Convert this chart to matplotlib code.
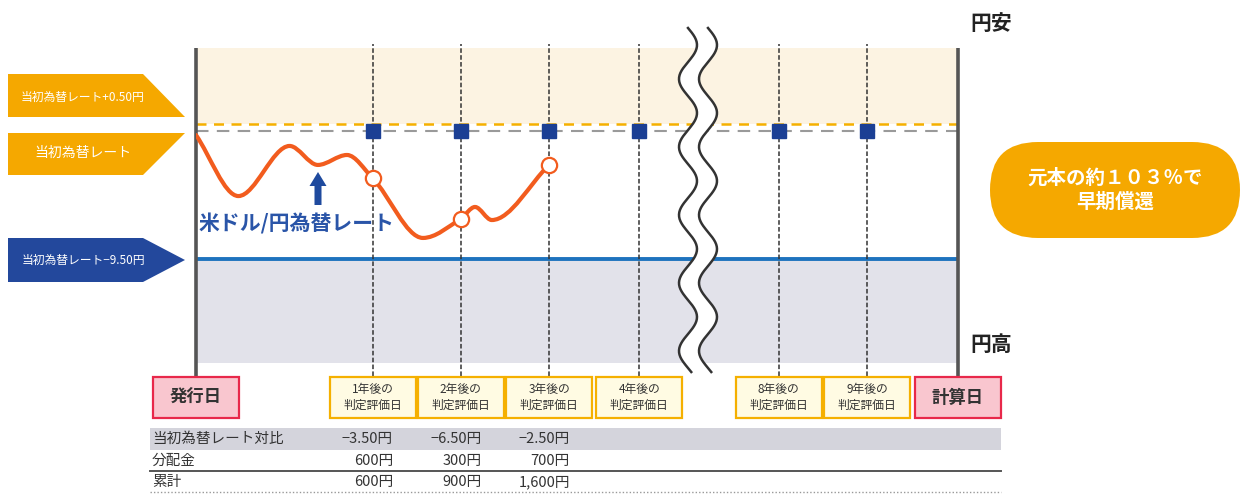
import numpy as np
import matplotlib
matplotlib.use("Agg")
import matplotlib.pyplot as plt
from matplotlib.patches import Polygon, Rectangle, FancyBboxPatch, PathPatch, FancyArrow
from matplotlib.path import Path
from matplotlib.transforms import blended_transform_factory

plt.rcParams["font.family"] = ["Noto Sans CJK JP", "DejaVu Sans"]

# --- data -------------------------------------------------------------
# rate levels relative to the initial USD/JPY rate (yen)
upper_level = 0.50
lower_level = -9.50

# valuation dates (position in interval units from the issue date)
event_names = ["発行日", "1年後の\n判定評価日", "2年後の\n判定評価日", "3年後の\n判定評価日",
               "4年後の\n判定評価日", "8年後の\n判定評価日", "9年後の\n判定評価日", "計算日"]
event_pos = [0.0, 2.0, 3.0, 4.0, 5.02, 6.6, 7.6, 8.63]

# USD/JPY path, change vs. initial rate (yen)
rate_pos = [0.0, 0.48, 1.06, 1.38, 1.71, 2.0, 2.57, 3.0, 3.16, 3.35, 4.0]
rate_chg = [-0.30, -4.83, -1.11, -2.52, -1.78, -3.50, -7.94, -6.50, -5.64, -6.61, -2.50]

# table below the chart
row_names = ["当初為替レート対比", "分配金", "累計"]
rate_diff = [-3.50, -6.50, -2.50]
dividend = [600, 300, 700]
cumulative = [600, 900, 1600]

# --- layout helpers ---------------------------------------------------
W, H = 1243, 494
PX_PER_YEN = 13.47
Y_ZERO = 131          # pixel row of the initial rate
X0, X1, Y_TOP, Y_BOT = 196, 958, 48, 363


def yen_at(py):
    return (Y_ZERO - py) / PX_PER_YEN


fig = plt.figure(figsize=(W / 100, H / 100), dpi=100)
ax = fig.add_axes([X0 / W, 1 - Y_BOT / H, (X1 - X0) / W, (Y_BOT - Y_TOP) / H], zorder=1)
ax.set_xlim(0, event_pos[-1])
ax.set_ylim(yen_at(Y_BOT), yen_at(Y_TOP))
ax.axis("off")

ov = fig.add_axes([0, 0, 1, 1], zorder=2)
ov.set_xlim(0, W)
ov.set_ylim(H, 0)
ov.set_facecolor("none")
ov.axis("off")

# shaded zones
ax.axhspan(upper_level, yen_at(Y_TOP), color="#fcf3e2", lw=0)
ax.axhspan(yen_at(Y_BOT), lower_level, color="#e2e2ea", lw=0)

# reference levels
ax.axhline(upper_level, color="#f5b000", lw=1.8, ls=(0, (4, 3)))
ax.axhline(0, color="#9a9a9a", lw=1.5, ls=(0, (6, 4)))
ax.axhline(lower_level, color="#1e73be", lw=2.8)

# vertical date lines
ax.vlines(event_pos[1:-1], yen_at(376), yen_at(44), color="#333333", lw=1.1,
          ls=(0, (3, 1.5)), clip_on=False, zorder=2)
ax.vlines([event_pos[0], event_pos[-1]], yen_at(376), yen_at(Y_TOP), color="#555555",
          lw=2.6, clip_on=False, zorder=2)

# observation markers at the initial rate
ax.plot(event_pos[1:-1], [0] * (len(event_pos) - 2), "s", ms=10, color="#1b3f94",
        zorder=5, clip_on=False)

# smooth exchange-rate curve (monotone cubic Bezier through the knots)
x = np.array(rate_pos)
y = np.array(rate_chg)
h = np.diff(x)
delta = np.diff(y) / h
d = np.zeros_like(y)
d[0], d[-1] = delta[0], delta[-1]
for k in range(1, len(x) - 1):
    if delta[k - 1] * delta[k] > 0:
        w1 = 2 * h[k] + h[k - 1]
        w2 = h[k] + 2 * h[k - 1]
        d[k] = (w1 + w2) / (w1 / delta[k - 1] + w2 / delta[k])
verts = [(x[0], y[0])]
codes = [Path.MOVETO]
for k in range(len(x) - 1):
    verts += [(x[k] + h[k] / 3, y[k] + d[k] * h[k] / 3),
              (x[k + 1] - h[k] / 3, y[k + 1] - d[k + 1] * h[k] / 3),
              (x[k + 1], y[k + 1])]
    codes += [Path.CURVE4] * 3
ax.add_patch(PathPatch(Path(verts, codes), fc="none", ec="#f25c1e", lw=3,
                       capstyle="round", joinstyle="round", zorder=4))
ax.plot(event_pos[1:4], rate_diff, "o", ms=11, mfc="white", mec="#f25c1e", mew=1.6,
        zorder=6)

# axis break
wy = np.linspace(28, 372, 300)
wl = 688 + 9 * np.sin(2 * np.pi * (wy - 28) / 68)
ov.fill_betweenx(wy, wl, wl + 20, color="white", lw=0)
ov.plot(wl, wy, color="#333333", lw=1.8)
ov.plot(wl + 20, wy, color="#333333", lw=1.8)

# rate label and pointer
ov.add_patch(FancyArrow(318, 205, 0, -33, width=7, head_width=17, head_length=14,
                        length_includes_head=True, color="#1f4a9e", lw=0))
ov.text(199, 224, "米ドル/円為替レート", color="#2a55a8", fontsize=15, fontweight="bold",
        va="center", ha="left")

# level tags on the left
ov.add_patch(Polygon([(8, 74), (143, 74), (185, 117), (8, 117)], color="#f5a800", lw=0))
ov.add_patch(Polygon([(8, 133), (185, 133), (143, 175), (8, 175)], color="#f5a800", lw=0))
ov.add_patch(Polygon([(8, 238), (143, 238), (185, 260), (143, 282), (8, 282)],
                     color="#23489c", lw=0))
ov.text(83, 97, "当初為替レート+0.50円", color="white", fontsize=8.5, ha="center", va="center")
ov.text(83, 153, "当初為替レート", color="white", fontsize=10, ha="center", va="center")
ov.text(83, 260, "当初為替レート−9.50円", color="white", fontsize=8.5, ha="center", va="center")

# right side annotations
ov.text(970, 24, "円安", fontsize=15, fontweight="bold", color="#222222", va="center")
ov.text(970, 344, "円高", fontsize=15, fontweight="bold", color="#222222", va="center")
ov.add_patch(FancyBboxPatch((990, 142), 250, 96, boxstyle="round,pad=0,rounding_size=48",
                            color="#f5a800", lw=0))
ov.text(1115, 190, "元本の約１０３％で\n早期償還", color="white", fontsize=14,
        fontweight="bold", ha="center", va="center", linespacing=1.35)

# date boxes under the chart
bt = blended_transform_factory(ax.transData, ov.transData)
box_w = 86 / 88.3
for i, (name, pos) in enumerate(zip(event_names, event_pos)):
    end = i in (0, len(event_pos) - 1)
    fc, ec = ("#f9c6cf", "#e8284a") if end else ("#fffbe3", "#f5b000")
    ov.add_patch(Rectangle((pos - box_w / 2, 377), box_w, 41, fc=fc, ec=ec, lw=1.6,
                           transform=bt, clip_on=False))
    if end:
        ov.text(pos, 397.5, name, transform=bt, ha="center", va="center", fontsize=12.5,
                fontweight="bold", color="#333333")
    else:
        ov.text(pos, 397.5, name, transform=bt, ha="center", va="center", fontsize=8.5,
                color="#333333", linespacing=1.25)

# table
ov.add_patch(Rectangle((150, 428), 851, 22, color="#d4d4dc", lw=0))
ov.plot([150, 1001], [471, 471], color="#555555", lw=1.4)
ov.plot([150, 1001], [492, 492], color="#999999", lw=1, ls=(0, (1, 1.5)))
row_y = [439, 461, 482]
col_right = [393, 482, 570]
for name, ry in zip(row_names, row_y):
    ov.text(152, ry, name, fontsize=10.5, color="#333333", va="center", ha="left")
for cx, rd, dv, cu in zip(col_right, rate_diff, dividend, cumulative):
    ov.text(cx, row_y[0], f"−{abs(rd):.2f}円", fontsize=10.5, color="#333333",
            va="center", ha="right")
    ov.text(cx, row_y[1], f"{dv:,}円", fontsize=10.5, color="#333333", va="center", ha="right")
    ov.text(cx, row_y[2], f"{cu:,}円", fontsize=10.5, color="#333333", va="center", ha="right")

fig.savefig("out.png", dpi=100)
